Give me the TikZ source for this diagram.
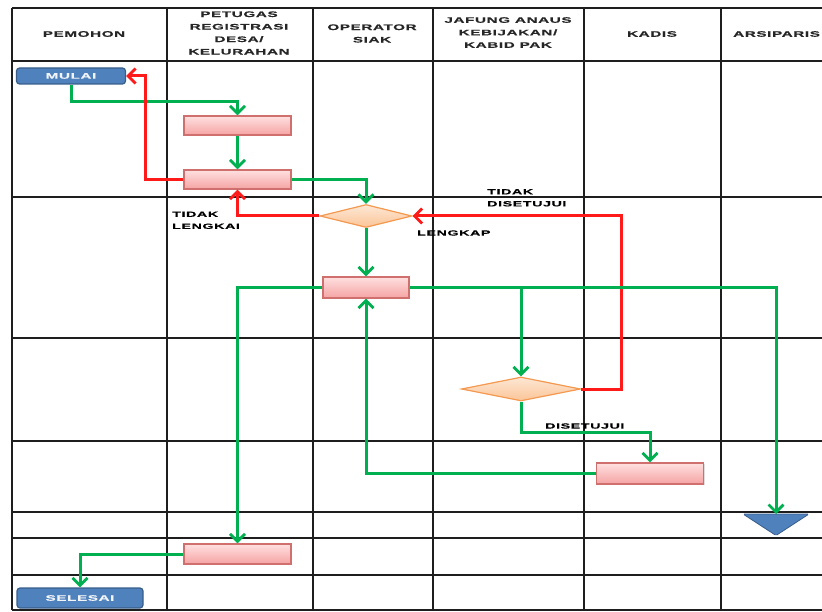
\documentclass[tikz,border=0pt]{standalone}
\usepackage{fontspec}
\usetikzlibrary{arrows.meta,shapes.geometric,shadows}
\newfontfamily\hfont{Liberation Sans}[UprightFont={* Bold}, FakeStretch=1.9, LetterSpace=8, FakeBold=0.6]
\definecolor{flowgreen}{HTML}{00B050}
\definecolor{flowred}{HTML}{FF1A1A}
\definecolor{gridline}{HTML}{1E1E1E}
\definecolor{termfill}{HTML}{4F81BD}
\definecolor{termdraw}{HTML}{385D8A}
\definecolor{procdraw}{HTML}{D0706E}
\definecolor{proctop}{HTML}{FFE0E0}
\definecolor{procbot}{HTML}{F5A3A3}
\definecolor{decdraw}{HTML}{F4994F}
\definecolor{dectop}{HTML}{FDE7D5}
\definecolor{decbot}{HTML}{FBC597}
\tikzset{
  grid/.style={draw=gridline, line width=2pt},
  hdr/.style={font=\hfont\fontsize{8}{12.5}\selectfont, text=black!85, align=center, inner sep=0pt},
  lbl/.style={font=\hfont\fontsize{7.5}{12}\selectfont, text=black, align=left, inner sep=0pt},
  terminal/.style={draw=termdraw, fill=termfill, line width=1.2pt, rounded corners=3pt,
    inner sep=0pt, font=\hfont\fontsize{8}{10}\selectfont, text=white!92!termfill},
  proc/.style={draw=procdraw, line width=1.3pt, top color=proctop, bottom color=procbot,
    minimum width=107pt, minimum height=19pt, inner sep=0pt,
    drop shadow={opacity=0.25, shadow xshift=1pt, shadow yshift=-1pt}},
  decision/.style={diamond, draw=decdraw, line width=1.2pt, top color=dectop, bottom color=decbot,
    inner sep=0pt},
  gflow/.style={draw=flowgreen, line width=3pt, -{Straight Barb[length=7.5pt,width=15pt,line width=2.8pt]}},
  rflow/.style={draw=flowred, line width=3pt, -{Straight Barb[length=7.5pt,width=15pt,line width=2.8pt]}},
}
\begin{document}
\begin{tikzpicture}[x=1pt, y=-1pt]
\useasboundingbox (0,0) rectangle (822,612);

% swimlane grid
\foreach \yy in {8,61.5,197,338,441,512,538,575,610}
  \draw[grid] (12,\yy) -- (835,\yy);
\foreach \xx in {12,167,313,433,584,721}
  \draw[grid] (\xx,8) -- (\xx,610);

% lane headers
\node[hdr] (hpemohon) at (84,34) {PEMOHON};
\node[hdr] (hpetugas) at (239,33) {PETUGAS\\REGISTRASI\\DESA/\\KELURAHAN};
\node[hdr] (hoperator) at (372,33.5) {OPERATOR\\SIAK};
\node[hdr] (hjafung) at (508,32.5) {JAFUNG ANAUS\\KEBIJAKAN/\\KABID PAK};
\node[hdr] (hkadis) at (652,34) {KADIS};
\node[hdr, anchor=west] (harsip) at (733,34) {ARSIPARIS};

% flow elements
\node[terminal, minimum width=109pt, minimum height=16pt] (mulai) at (71,76) {MULAI};
\node[proc] (b1) at (237.5,125.5) {};
\node[proc] (b2) at (237.5,179.5) {};
\node[decision, minimum width=92pt, minimum height=23pt] (d1) at (366,216) {};
\node[proc, minimum width=86pt, minimum height=21pt] (b3) at (366,287.5) {};
\node[decision, minimum width=119pt, minimum height=24pt] (d2) at (521,389) {};
\node[proc, minimum height=21pt] (b4) at (650,473.5) {};
\node[proc, minimum height=20pt] (b5) at (237.5,554) {};
\node[terminal, minimum width=126pt, minimum height=20pt] (selesai) at (80,598) {SELESAI};

% archive marker (inverted triangle)
\coordinate (arsip) at (776,514);
\draw[draw=termdraw, fill=termfill, line width=0.8pt, rounded corners=1.5pt]
  (743,514) -- (809,514) -- (776,535.5) -- cycle;

% connectors
\draw[gflow] (mulai.south) -- ++(0,17) -| (b1.north);
\draw[gflow] (b1.south) -- (b2.north);
\draw[gflow] (b2.east) -| (d1.north);
\draw[rflow] (b2.west) -- ++(-38,0) |- (mulai.east);
\draw[rflow] (d1.west) -| (b2.south);
\draw[gflow] (d1.south) -- (b3.north);
\draw[rflow] (d2.east) -- ++(40,0) |- (d1.east);
\draw[gflow] (b3.east) -| (arsip);
\draw[gflow] (b3.east -| d2.north) -- (d2.north);
\draw[gflow] (d2.south) -- ++(0,31) -| (b4.north);
\draw[gflow] (b4.west) -| (b3.south);
\draw[gflow] (b3.west) -| (b5.north);
\draw[gflow] (b5.west) -| (selesai.north);

% branch labels
\node[lbl, anchor=north west] (ltidaklengkap) at (172,211.5) {TIDAK\\LENGKAI};
\node[lbl, anchor=west] (llengkap) at (417,233) {LENGKAP};
\node[lbl, anchor=north west] (ltidaksetuju) at (487,189) {TIDAK\\DISETUJUI};
\node[lbl, anchor=west] (lsetuju) at (545,426) {DISETUJUI};
\end{tikzpicture}
\end{document}
